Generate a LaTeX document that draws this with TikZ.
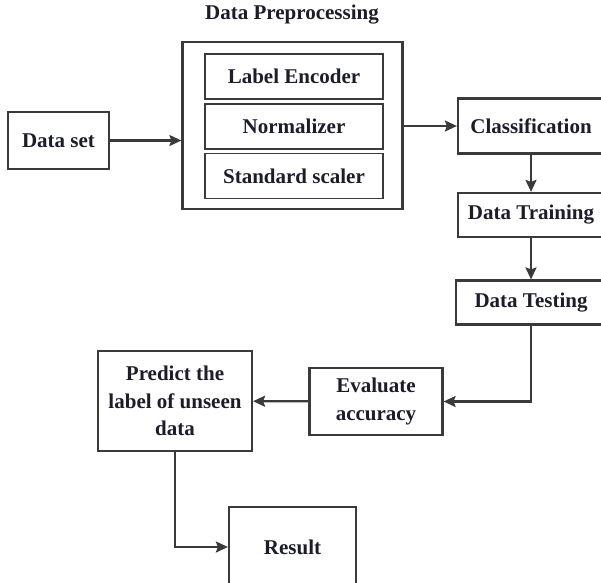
\documentclass[tikz,border=0pt]{standalone}
\usepackage{fontspec}
\setmainfont{Liberation Serif}
\usetikzlibrary{arrows.meta}

\definecolor{lineclr}{HTML}{3A3A3A}
\definecolor{txtclr}{HTML}{1C1C2A}

\tikzset{
  box/.style={draw=lineclr, line width=2.2pt, inner sep=0pt, align=center,
              text=txtclr, font=\fontsize{21}{27.5}\selectfont\bfseries},
  inbox/.style={box, line width=1.5pt, minimum width=178pt, minimum height=45pt},
  link/.style={->, draw=lineclr, line width=2.2pt}
}

\begin{document}
\begin{tikzpicture}[x=1pt, y=-1pt, >={Stealth[length=12pt,width=11pt,inset=2pt]}]
\useasboundingbox (0,0) rectangle (601,582);

% Blocco di preprocessing
\node[text=txtclr, font=\fontsize{21}{25}\selectfont\bfseries] (title) at (292,15) {Data Preprocessing};
\node[box, minimum width=220pt, minimum height=167pt] (pre) at (292.5,125.5) {};
\foreach \y/\n/\t in {76.5/enc/Label Encoder, 126.5/norm/Normalizer, 176/scal/Standard scaler} {
  \node[inbox] (\n) at (294,\y) {\t};
}

% Ingresso
\node[box, minimum width=101pt, minimum height=57pt] (dset) at (58.5,140.5) {Data set};

% Colonna di destra
\node[box, minimum width=146pt, minimum height=55pt] (cls) at (531,126) {Classification};
\node[box, minimum width=146pt, minimum height=44pt] (trn) at (531,215) {Data Training};
\node[box, minimum width=150pt, minimum height=44pt] (tst) at (531,302.5) {Data Testing};

% Valutazione e risultato
\node[box, minimum width=133pt, minimum height=67pt] (eva) at (376,401.5) {Evaluate\\accuracy};
\node[box, minimum width=154pt, minimum height=100pt] (pred) at (175,401) {Predict the\\label of unseen\\data};
\node[box, minimum width=127pt, minimum height=80pt] (res) at (292.5,547) {Result};

% Collegamenti
\draw[link] (dset.east) -- (dset.east -| pre.west);
\draw[link] (pre.east |- cls) -- (cls.west);
\draw[link] (cls) -- (trn);
\draw[link] (trn) -- (tst);
\draw[link] (tst.south) |- (eva.east);
\draw[link] (eva) -- (pred);
\draw[link] (pred.south) |- (res.west);

\end{tikzpicture}
\end{document}
